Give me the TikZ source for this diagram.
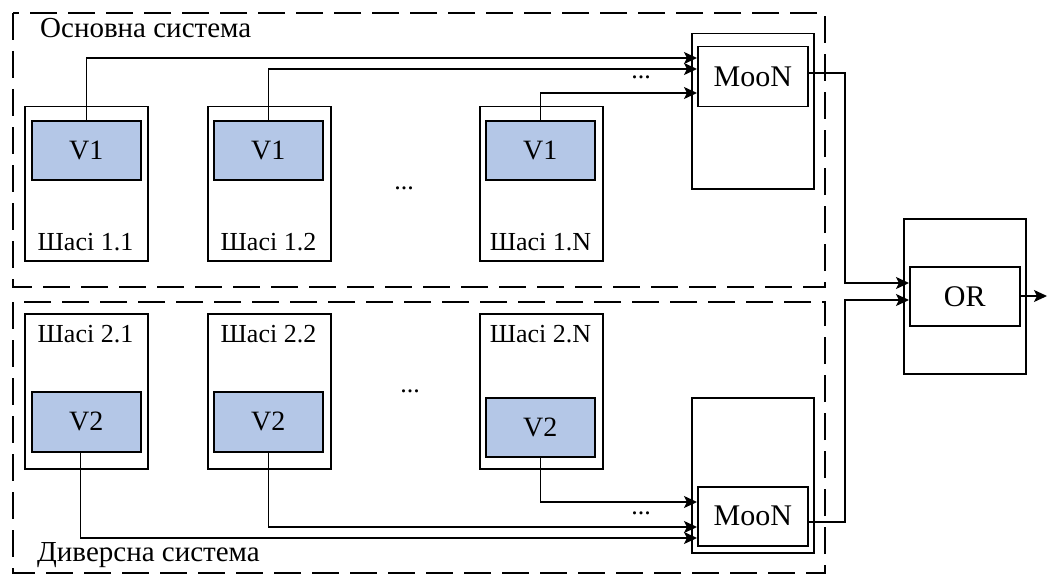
\documentclass[tikz,border=0pt]{standalone}
\usepackage{fontspec}
\setmainfont{Liberation Serif}
\usetikzlibrary{arrows.meta}
\definecolor{vfill}{HTML}{B4C7E7}
\tikzset{
  frame/.style={draw, line width=1.3pt, dash pattern=on 27pt off 11pt},
  box/.style={draw, line width=1.5pt, fill=white, anchor=north west, inner sep=0pt},
  chassis/.style={box, minimum width=123pt, minimum height=154pt},
  vbox/.style={box, fill=vfill, minimum width=109pt, minimum height=59pt},
  outer/.style={box, minimum width=122pt, minimum height=155pt},
  inner/.style={box, minimum width=110pt, minimum height=60pt},
  lbl/.style={font=\fontsize{26}{30}\selectfont, inner sep=0pt},
  vlbl/.style={font=\fontsize{28}{32}\selectfont, inner sep=0pt},
  glbl/.style={font=\fontsize{30}{34}\selectfont, inner sep=0pt},
  title/.style={font=\fontsize{29}{33}\selectfont, inner sep=0pt, anchor=west},
  arr/.style={line width=1.4pt, -{Stealth[length=13pt,width=12pt,inset=3pt]}},
}
\begin{document}
\begin{tikzpicture}[x=1pt,y=-1pt]
\useasboundingbox (0,0) rectangle (1048,575);

% system frames
\draw[frame] (13,13) rectangle (825,287);
\draw[frame] (13,302) rectangle (825,573);
\node[title] (main) at (40,28) {Основна система};
\node[title] (div) at (37,555) {Диверсна система};

% main system chassis
\node[chassis] (c11) at (24,106) {};
\node[chassis] (c12) at (207,106) {};
\node[chassis] (c1n) at (479,106) {};
\node[vbox] (v11) at (31,120) {};
\node[vbox] (v12) at (213,120) {};
\node[vbox] (v1n) at (485,120) {};
\node[vlbl] at (v11.center) {V1};
\node[vlbl] at (v12.center) {V1};
\node[vlbl] at (v1n.center) {V1};
\node[lbl] (t11) at (85.5,242) {Шасі 1.1};
\node[lbl] (t12) at (268.5,242) {Шасі 1.2};
\node[lbl] (t1n) at (540.5,242) {Шасі 1.N};
\node[lbl] (dots1) at (404,188) {...};

% diverse system chassis
\node[chassis, minimum height=155pt] (c21) at (24,313) {};
\node[chassis, minimum height=155pt] (c22) at (207,313) {};
\node[chassis, minimum height=155pt] (c2n) at (479,313) {};
\node[vbox, minimum height=60pt] (v21) at (31,391) {};
\node[vbox, minimum height=60pt] (v22) at (213,391) {};
\node[vbox] (v2n) at (485,397) {};
\node[vlbl] at (v21.center) {V2};
\node[vlbl] at (v22.center) {V2};
\node[vlbl] at (v2n.center) {V2};
\node[lbl] (t21) at (85.5,334) {Шасі 2.1};
\node[lbl] (t22) at (268.5,334) {Шасі 2.2};
\node[lbl] (t2n) at (540.5,334) {Шасі 2.N};
\node[lbl] (dots2) at (410,391) {...};

% voters
\node[outer] (m1o) at (691,33) {};
\node[inner] (m1) at (697,46) {};
\node[glbl] at (m1.center) {MooN};
\node[outer] (m2o) at (691,397) {};
\node[inner, minimum height=59pt] (m2) at (697,486) {};
\node[glbl] at (m2.center) {MooN};
\node[outer] (oro) at (903,218) {};
\node[inner, minimum height=59pt] (or) at (909,266) {};
\node[glbl] at (or.center) {OR};
\coordinate (out) at (1047,296);

% main system connections
\draw[arr] (v11.north) |- (m1.west |- 0,58);
\draw[arr] (v12.north) |- (m1.west |- 0,69);
\draw[arr] (v1n.north) |- (m1.west |- 0,93);
\node[lbl] (dm1) at (641,77) {...};

% diverse system connections
\draw[arr] ([xshift=-5.5pt]v21.south) |- (m2.west |- 0,538);
\draw[arr] (v22.south) |- (m2.west |- 0,527);
\draw[arr] (v2n.south) |- (m2.west |- 0,502);
\node[lbl] (dm2) at (641,513) {...};

% voter outputs
\draw[arr] (m1.east |- 0,73) -| (845,283) -- (or.west |- 0,283);
\draw[arr] (m2.east |- 0,522) -| (845,300) -- (or.west |- 0,300);
\draw[arr] (or.east |- out) -- (out);
\end{tikzpicture}
\end{document}
